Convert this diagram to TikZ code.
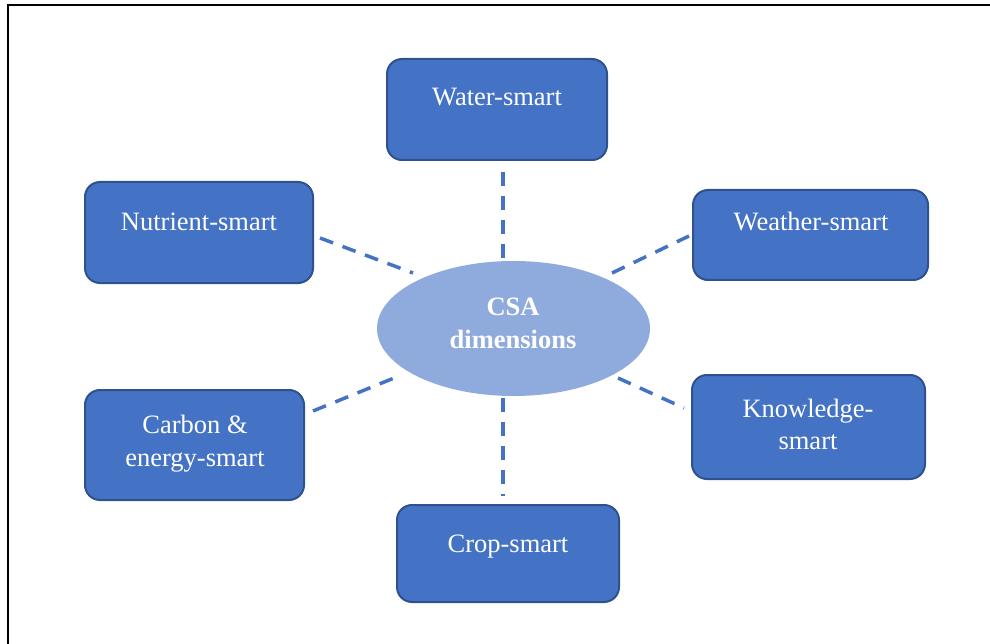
\documentclass[tikz,border=0pt]{standalone}
\usepackage{fontspec}
\setmainfont{Liberation Serif}
\definecolor{boxfill}{HTML}{4472C4}
\definecolor{boxedge}{HTML}{2F528F}
\definecolor{ellfill}{HTML}{8FAADC}
\definecolor{dashcol}{HTML}{4472C4}
\usetikzlibrary{shapes.geometric}
\tikzset{
  box/.style={draw=boxedge, line width=2pt, fill=boxfill, rounded corners=15pt, inner sep=0pt},
  hub/.style={ellipse, fill=ellfill, draw=none, inner sep=0pt},
  lbl/.style={text=white, font=\fontsize{26.5}{33}\selectfont, inner sep=0pt, anchor=base},
  hubtxt/.style={text=white, font=\fontsize{26.5}{33}\selectfont\bfseries, inner sep=0pt, anchor=base},
  link/.style={draw=dashcol, line width=3.5pt, dash pattern=on 14pt off 10pt},
  frame/.style={draw=black, line width=2.5pt}
}
\begin{document}
\begin{tikzpicture}[x=1pt,y=-1pt]
\useasboundingbox (0,0) rectangle (990,644);
% frame
\coordinate (f1) at (8,700);
\coordinate (f2) at (8,5);
\coordinate (f3) at (1000,5);
\draw[frame] (f1) -- (f2) -- (f3);

% boxes
\node[box, minimum width=220pt, minimum height=101pt] (water) at (497,109.5) {};
\node[box, minimum width=228pt, minimum height=101pt] (nut) at (199,232.5) {};
\node[box, minimum width=235pt, minimum height=90pt] (wea) at (810.5,235) {};
\node[box, minimum width=233pt, minimum height=104pt] (kno) at (808.5,427) {};
\node[box, minimum width=219pt, minimum height=110pt] (car) at (194.5,445) {};
\node[box, minimum width=222pt, minimum height=97pt] (crop) at (508,553.5) {};
\node[hub, minimum width=273pt, minimum height=135pt] (csa) at (513.5,328.5) {};

% labels
\node[lbl] (water-t) at (497,106) {Water-smart};
\node[lbl] (nut-t) at (199,231) {Nutrient-smart};
\node[lbl] (wea-t) at (811,231) {Weather-smart};
\node[lbl] (kno-t1) at (808,417) {Knowledge-};
\node[lbl] (kno-t2) at (808,449) {smart};
\node[lbl] (car-t1) at (195,433) {Carbon \&};
\node[lbl] (car-t2) at (195,466) {energy-smart};
\node[lbl] (crop-t) at (508,552) {Crop-smart};
\node[hubtxt] (csa-t1) at (513,315) {CSA};
\node[hubtxt] (csa-t2) at (513,348) {dimensions};

% connector end points (lines stop short of the shapes)
\coordinate (w-a) at (503,172);  \coordinate (w-b) at (503,258);
\coordinate (c-a) at (503,398);  \coordinate (c-b) at (503,496);
\coordinate (n-a) at (320,238);  \coordinate (n-b) at (413,273);
\coordinate (we-a) at (612,273); \coordinate (we-b) at (689,236);
\coordinate (ca-a) at (313,411); \coordinate (ca-b) at (399,376);
\coordinate (k-a) at (618,378);  \coordinate (k-b) at (684,408);

\draw[link] (w-a) -- (w-b);
\draw[link] (c-a) -- (c-b);
\draw[link] (n-a) -- (n-b);
\draw[link] (we-a) -- (we-b);
\draw[link] (ca-a) -- (ca-b);
\draw[link] (k-a) -- (k-b);
\end{tikzpicture}
\end{document}
